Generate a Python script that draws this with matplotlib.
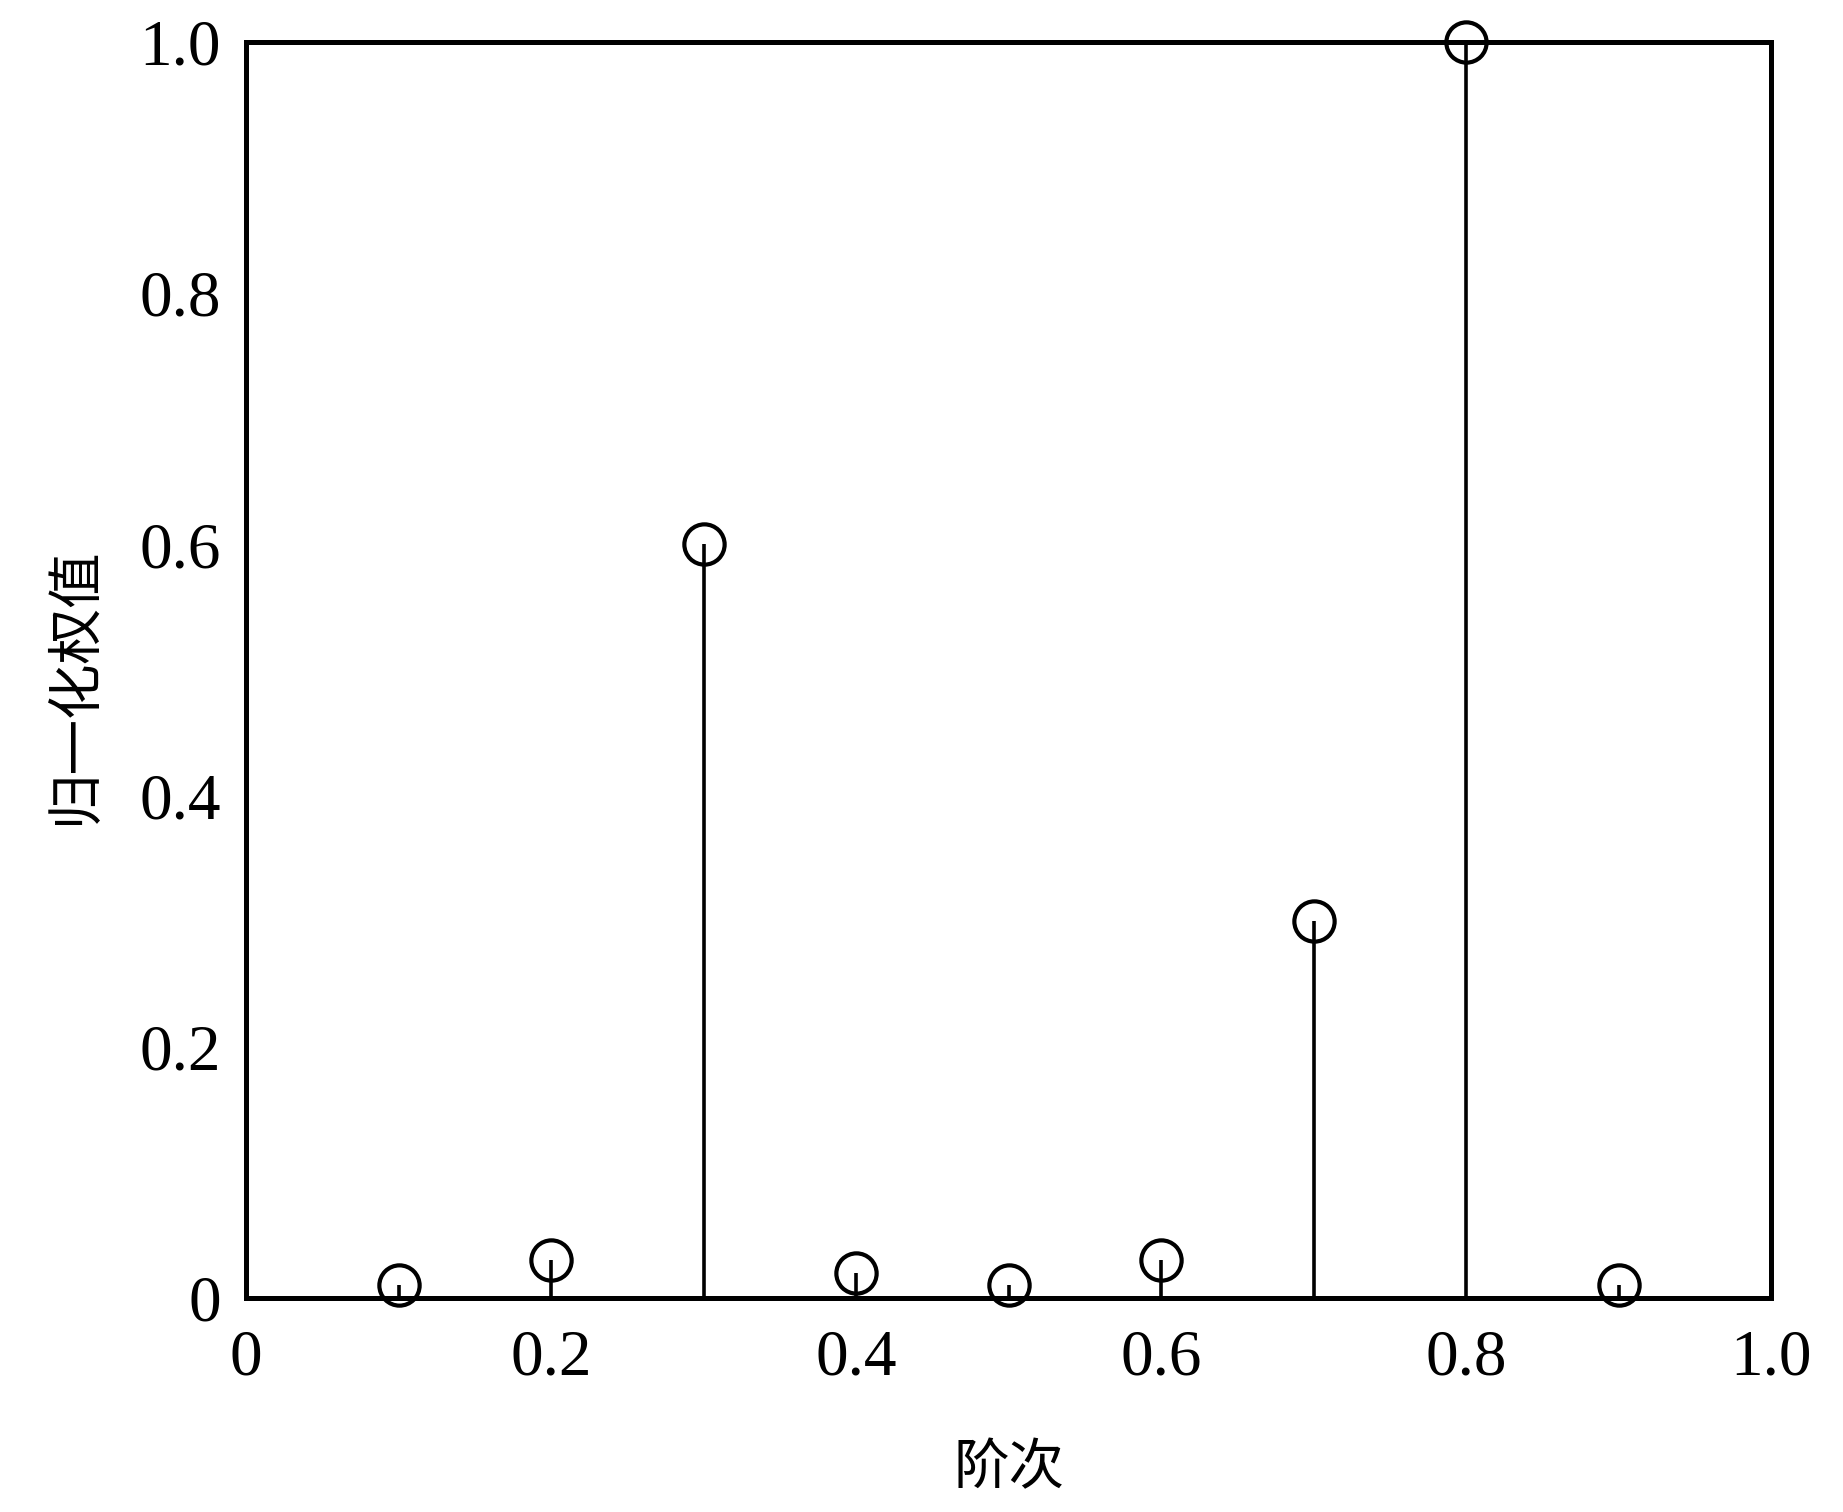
import matplotlib
matplotlib.use("Agg")
import matplotlib.pyplot as plt

orders = [0.1, 0.2, 0.3, 0.4, 0.5, 0.6, 0.7, 0.8, 0.9]
weights = [0.01, 0.03, 0.60, 0.02, 0.01, 0.03, 0.30, 1.00, 0.01]
xticks = [0, 0.2, 0.4, 0.6, 0.8, 1.0]
xticklabels = ["0", "0.2", "0.4", "0.6", "0.8", "1.0"]
yticks = [0, 0.2, 0.4, 0.6, 0.8, 1.0]
yticklabels = ["0", "0.2", "0.4", "0.6", "0.8", "1.0"]

W, H = 1843, 1512
fig = plt.figure(figsize=(W / 100, H / 100), dpi=100)
ax = fig.add_axes([246 / W, 1 - 1298 / H, (1771 - 246) / W, (1298 - 42) / H])

markerline, stemlines, baseline = ax.stem(orders, weights, linefmt="k-", markerfmt="ko", basefmt=" ")
plt.setp(stemlines, linewidth=2.6, color="black")
plt.setp(markerline, markersize=29, markerfacecolor="none", markeredgecolor="black",
         markeredgewidth=3.0, clip_on=False, zorder=5)
stemlines.set_clip_on(False)

ax.set_xlim(0, 1.0)
ax.set_ylim(0, 1.0)
ax.set_xticks(xticks)
ax.set_xticklabels(xticklabels)
ax.set_yticks(yticks)
ax.set_yticklabels(yticklabels)
ax.tick_params(axis="both", length=0, labelsize=47)
ax.tick_params(axis="x", pad=22)
ax.tick_params(axis="y", pad=18)
for lab in ax.get_xticklabels() + ax.get_yticklabels():
    lab.set_fontfamily(["Liberation Serif", "DejaVu Serif"])

for s in ax.spines.values():
    s.set_linewidth(3.6)
    s.set_color("black")

ax.set_xlabel("阶次", fontsize=40, family=["Noto Sans CJK SC", "DejaVu Sans"])
ax.set_ylabel("归一化权值", fontsize=40, family=["Noto Sans CJK SC", "DejaVu Sans"])
ax.xaxis.set_label_coords(0.5, -(1468 - 1298) / (1298 - 42), transform=ax.transAxes)
ax.yaxis.set_label_coords(-(246 - 75) / (1771 - 246), 1 - (685 - 42) / (1298 - 42), transform=ax.transAxes)
ax.xaxis.label.set_va("center")
ax.yaxis.label.set_va("center")

fig.savefig("out.png", dpi=100, facecolor="white")
